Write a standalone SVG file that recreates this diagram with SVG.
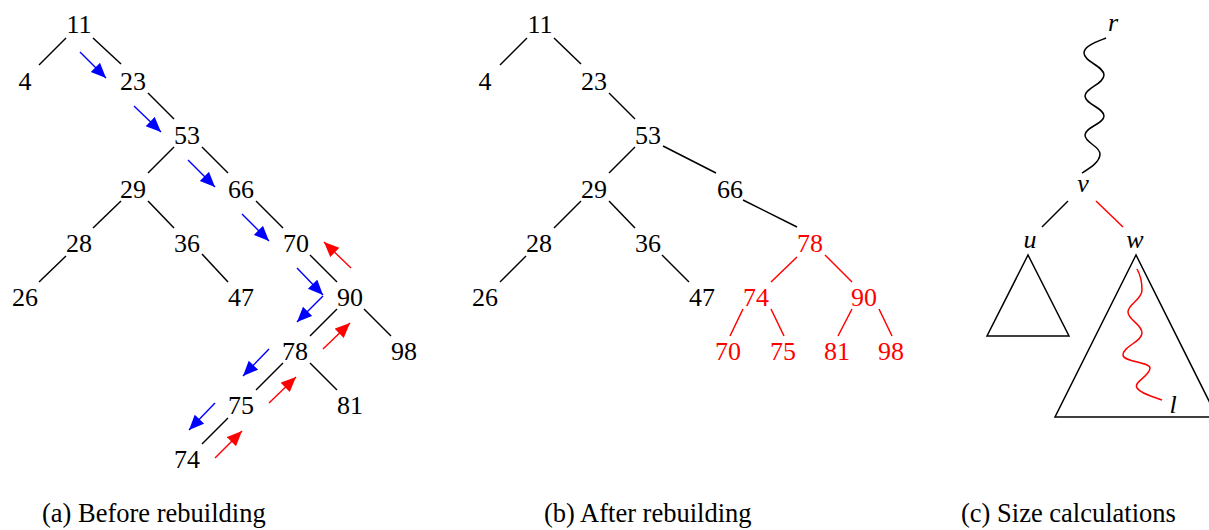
<svg xmlns="http://www.w3.org/2000/svg" width="1209" height="530" viewBox="0 0 1209 530" font-family="Liberation Serif, DejaVu Serif, serif">
  <style>
    text { font-family: "Liberation Serif", "DejaVu Serif", serif; font-size: 26px; text-anchor: middle; fill: #000; }
    .red text { fill: #ff0000; }
    .var { font-style: italic; }
    .caption { text-anchor: start; font-size: 26.5px; }
    .edge { stroke: #000; stroke-width: 1.5; fill: none; }
    .edge.red { stroke: #ff0000; }
    .down { stroke: #0000ff; stroke-width: 1.4; fill: none; marker-end: url(#headBlue); }
    .up { stroke: #ff0000; stroke-width: 1.4; fill: none; marker-end: url(#headRed); }
  </style>
  <defs>
    <marker id="headBlue" markerUnits="userSpaceOnUse" markerWidth="16" markerHeight="14" refX="15" refY="6.5" orient="auto">
      <path d="M0,0 L15,6.5 L0,13 z" fill="#0000ff"/>
    </marker>
    <marker id="headRed" markerUnits="userSpaceOnUse" markerWidth="16" markerHeight="14" refX="15" refY="6.5" orient="auto">
      <path d="M0,0 L15,6.5 L0,13 z" fill="#ff0000"/>
    </marker>
  </defs>

  <!-- (a) tree before rebuilding -->
  <g id="tree-a">
    <g id="connectors-a">
      <line class="edge" x1="66" y1="38" x2="39" y2="65"/>
      <line class="edge" x1="93" y1="38" x2="121" y2="64"/>
      <line class="edge" x1="148" y1="93" x2="174" y2="119"/>
      <line class="edge" x1="174" y1="147" x2="148" y2="173"/>
      <line class="edge" x1="202" y1="147" x2="228" y2="173"/>
      <line class="edge" x1="121" y1="201" x2="93" y2="228"/>
      <line class="edge" x1="148" y1="201" x2="174" y2="228"/>
      <line class="edge" x1="256" y1="201" x2="283" y2="228"/>
      <line class="edge" x1="66" y1="256" x2="39" y2="282"/>
      <line class="edge" x1="202" y1="254" x2="228" y2="282"/>
      <line class="edge" x1="310" y1="255" x2="337" y2="282"/>
      <line class="edge" x1="337" y1="309" x2="310" y2="336"/>
      <line class="edge" x1="364" y1="309" x2="391" y2="336"/>
      <line class="edge" x1="283" y1="363" x2="256" y2="390"/>
      <line class="edge" x1="310" y1="363" x2="337" y2="390"/>
      <line class="edge" x1="228" y1="418" x2="202" y2="444"/>
      <!-- search path going down -->
      <line class="down" x1="80" y1="52" x2="106" y2="78"/>
      <line class="down" x1="134" y1="106" x2="161" y2="132"/>
      <line class="down" x1="188" y1="160" x2="215" y2="187"/>
      <line class="down" x1="242" y1="214" x2="269" y2="241"/>
      <line class="down" x1="297" y1="268" x2="323" y2="295"/>
      <line class="down" x1="323" y1="296" x2="297" y2="322"/>
      <line class="down" x1="269" y1="349" x2="243" y2="376"/>
      <line class="down" x1="215" y1="403" x2="189" y2="430"/>
      <!-- climbing back up -->
      <line class="up" x1="215" y1="458" x2="242" y2="431"/>
      <line class="up" x1="269" y1="403" x2="296" y2="377"/>
      <line class="up" x1="323" y1="349" x2="350" y2="323"/>
      <line class="up" x1="351" y1="268" x2="324" y2="242"/>
    </g>
    <g id="a-11"><text x="79" y="33">11</text></g>
    <g id="a-4"><text x="25" y="90">4</text></g>
    <g id="a-23"><text x="133" y="90">23</text></g>
    <g id="a-53"><text x="187" y="144">53</text></g>
    <g id="a-29"><text x="133" y="198">29</text></g>
    <g id="a-66"><text x="241" y="198">66</text></g>
    <g id="a-28"><text x="79" y="252">28</text></g>
    <g id="a-36"><text x="187" y="252">36</text></g>
    <g id="a-70"><text x="296" y="252">70</text></g>
    <g id="a-26"><text x="25" y="306">26</text></g>
    <g id="a-47"><text x="241" y="306">47</text></g>
    <g id="a-90"><text x="350" y="306">90</text></g>
    <g id="a-78"><text x="295" y="360">78</text></g>
    <g id="a-98"><text x="404" y="360">98</text></g>
    <g id="a-75"><text x="241" y="414">75</text></g>
    <g id="a-81"><text x="350" y="414">81</text></g>
    <g id="a-74"><text x="187" y="468">74</text></g>
    <text class="caption" x="42" y="522">(a) Before rebuilding</text>
  </g>

  <!-- (b) tree after rebuilding -->
  <g id="tree-b">
    <g id="connectors-b">
      <line class="edge" x1="527" y1="38" x2="500" y2="65"/>
      <line class="edge" x1="554" y1="38" x2="581" y2="64"/>
      <line class="edge" x1="609" y1="93" x2="635" y2="119"/>
      <line class="edge" x1="635" y1="147" x2="609" y2="173"/>
      <line class="edge" x1="663" y1="146" x2="716" y2="173"/>
      <line class="edge" x1="581" y1="201" x2="554" y2="228"/>
      <line class="edge" x1="609" y1="201" x2="635" y2="228"/>
      <line class="edge" x1="743" y1="200" x2="797" y2="227"/>
      <line class="edge" x1="526" y1="256" x2="500" y2="282"/>
      <line class="edge" x1="662" y1="255" x2="689" y2="282"/>
      <line class="edge red" x1="797" y1="257" x2="771" y2="282"/>
      <line class="edge red" x1="825" y1="255" x2="852" y2="282"/>
      <line class="edge red" x1="743" y1="309" x2="730" y2="336"/>
      <line class="edge red" x1="771" y1="309" x2="784" y2="336"/>
      <line class="edge red" x1="852" y1="309" x2="838" y2="336"/>
      <line class="edge red" x1="879" y1="309" x2="892" y2="336"/>
    </g>
    <g id="b-11"><text x="540" y="33">11</text></g>
    <g id="b-4"><text x="485" y="90">4</text></g>
    <g id="b-23"><text x="594" y="90">23</text></g>
    <g id="b-53"><text x="648" y="144">53</text></g>
    <g id="b-29"><text x="594" y="198">29</text></g>
    <g id="b-66"><text x="730" y="198">66</text></g>
    <g id="b-28"><text x="539" y="252">28</text></g>
    <g id="b-36"><text x="648" y="252">36</text></g>
    <g id="b-26"><text x="485" y="306">26</text></g>
    <g id="b-47"><text x="702" y="306">47</text></g>
    <g class="red">
      <g id="b-78"><text x="810" y="252">78</text></g>
      <g id="b-74"><text x="756" y="306">74</text></g>
      <g id="b-90"><text x="864" y="306">90</text></g>
      <g id="b-70"><text x="728" y="360">70</text></g>
      <g id="b-75"><text x="783" y="360">75</text></g>
      <g id="b-81"><text x="837" y="360">81</text></g>
      <g id="b-98"><text x="891" y="360">98</text></g>
    </g>
    <text class="caption" x="544" y="522">(b) After rebuilding</text>
  </g>

  <!-- (c) size calculations -->
  <g id="sizes-c">
    <g id="connectors-c">
      <path class="edge" d="M1106,38 C1096,42 1084,46 1084,53 C1084,62 1104,66 1104,75 C1104,84 1085,88 1085,96 C1085,104 1104,108 1104,116 C1104,124 1085,127 1085,135 C1085,143 1100,146 1100,154 C1100,162 1090,168 1082,173"/>
      <line class="edge" x1="1068" y1="201" x2="1042" y2="227"/>
      <line class="edge red" x1="1096" y1="201" x2="1123" y2="227"/>
    </g>
    <g id="c-r"><text class="var" x="1113" y="31">r</text></g>
    <g id="c-v"><text class="var" x="1083" y="192">v</text></g>
    <g id="c-u">
      <text class="var" x="1030" y="248">u</text>
      <path class="edge" d="M1028,255 L987,336 L1069,336 z"/>
    </g>
    <g id="c-w">
      <text class="var" x="1135" y="248">w</text>
      <path class="edge" d="M1136,255 L1055,417 L1217,417 z"/>
      <path class="edge red" d="M1137,269 C1141,276 1142,282 1142,290 C1142,300 1128,304 1128,312 C1128,320 1142,324 1142,333 C1142,342 1123,346 1123,355 C1123,362 1150,362 1150,368 C1150,376 1133,382 1137,388 C1141,394 1154,397 1162,400"/>
    </g>
    <g id="c-l"><text class="var" x="1173" y="413">l</text></g>
    <text class="caption" x="961" y="522">(c) Size calculations</text>
  </g>
</svg>
